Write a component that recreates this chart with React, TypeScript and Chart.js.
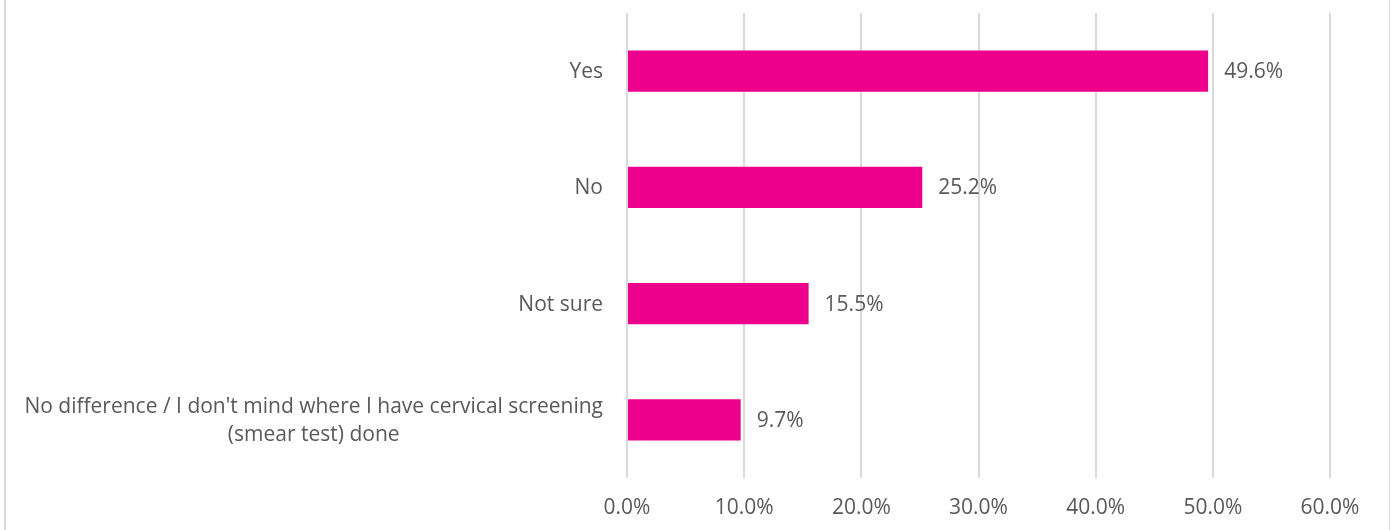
import React, { useEffect, useRef } from "react";
import { Chart, registerables } from "chart.js";

Chart.register(...registerables);

const categories: string[][] = [
  ["Yes"],
  ["No"],
  ["Not sure"],
  ["No difference / I don't mind where I have cervical screening", "(smear test) done"],
];
const values: number[] = [49.6, 25.2, 15.5, 9.7];
const xTickValues: number[] = [0, 10, 20, 30, 40, 50, 60];

const BAR_COLOR = "#EC008C";
const TEXT_COLOR = "#595959";
const GRID_COLOR = "#d9d9d9";
const FONT_FAMILY = "'Open Sans', sans-serif";
const FONT_SIZE = 21;

const valueLabelPlugin = {
  id: "valueLabels",
  afterDatasetsDraw(chart: any) {
    const ctx = chart.ctx;
    const meta = chart.getDatasetMeta(0);
    ctx.save();
    ctx.font = `${FONT_SIZE}px ${FONT_FAMILY}`;
    ctx.fillStyle = TEXT_COLOR;
    ctx.textAlign = "left";
    ctx.textBaseline = "middle";
    meta.data.forEach((bar: any, i: number) => {
      ctx.fillText(`${values[i].toFixed(1)}%`, bar.x + 16, bar.y + 1);
    });
    ctx.restore();
  },
};

const categoryLabelPlugin = {
  id: "categoryLabels",
  afterDraw(chart: any) {
    const ctx = chart.ctx;
    const yScale = chart.scales.y;
    const right = chart.chartArea.left - 24;
    const lineHeight = 28;
    ctx.save();
    ctx.font = `${FONT_SIZE}px ${FONT_FAMILY}`;
    ctx.fillStyle = TEXT_COLOR;
    ctx.textBaseline = "middle";
    categories.forEach((lines, i) => {
      const cy = yScale.getPixelForValue(i);
      const widest = Math.max(...lines.map((l) => ctx.measureText(l).width));
      const startY = cy - ((lines.length - 1) * lineHeight) / 2 + 1;
      lines.forEach((line, j) => {
        const y = startY + j * lineHeight;
        if (lines.length === 1) {
          ctx.textAlign = "right";
          ctx.fillText(line, right, y);
        } else {
          ctx.textAlign = "center";
          ctx.fillText(line, right - widest / 2, y);
        }
      });
    });
    ctx.restore();
  },
};

export default function App() {
  const canvasRef = useRef<HTMLCanvasElement | null>(null);

  useEffect(() => {
    if (!canvasRef.current) return;
    const chart = new Chart(canvasRef.current, {
      type: "bar",
      data: {
        labels: categories.map((c) => c.join(" ")),
        datasets: [
          {
            data: values,
            backgroundColor: BAR_COLOR,
            borderWidth: 0,
            barPercentage: 0.353,
            categoryPercentage: 1,
          },
        ],
      },
      options: {
        indexAxis: "y",
        animation: false,
        responsive: false,
        devicePixelRatio: 1,
        layout: { padding: { left: 0, right: 67, top: 13, bottom: 0 } },
        plugins: {
          legend: { display: false },
          tooltip: { enabled: false },
        },
        scales: {
          x: {
            min: 0,
            max: 60,
            afterBuildTicks: (scale: any) => {
              scale.ticks = xTickValues.map((v) => ({ value: v }));
            },
            afterFit: (scale: any) => {
              scale.height = 52;
            },
            ticks: {
              padding: 17,
              color: TEXT_COLOR,
              font: { family: FONT_FAMILY, size: FONT_SIZE },
              callback: (v: any) => `${Number(v).toFixed(1)}%`,
              maxRotation: 0,
            },
            grid: { color: GRID_COLOR, lineWidth: 2, drawTicks: false },
            border: { display: false },
          },
          y: {
            afterFit: (scale: any) => {
              scale.width = 627;
            },
            ticks: { display: false },
            grid: { display: false, drawTicks: false },
            border: { display: false },
          },
        },
      },
      plugins: [valueLabelPlugin, categoryLabelPlugin],
    });
    return () => chart.destroy();
  }, []);

  return (
    <div style={{ position: "fixed", left: 0, top: 0, width: 1397, height: 530, background: "#fff", overflow: "hidden" }}>
      <div
        style={{
          position: "absolute",
          left: 4,
          top: -10,
          width: 1383,
          height: 560,
          borderLeft: `2px solid ${GRID_COLOR}`,
          borderRight: `1px solid ${GRID_COLOR}`,
        }}
      />
      <canvas ref={canvasRef} width={1397} height={530} style={{ position: "absolute", left: 0, top: 0 }} />
    </div>
  );
}
